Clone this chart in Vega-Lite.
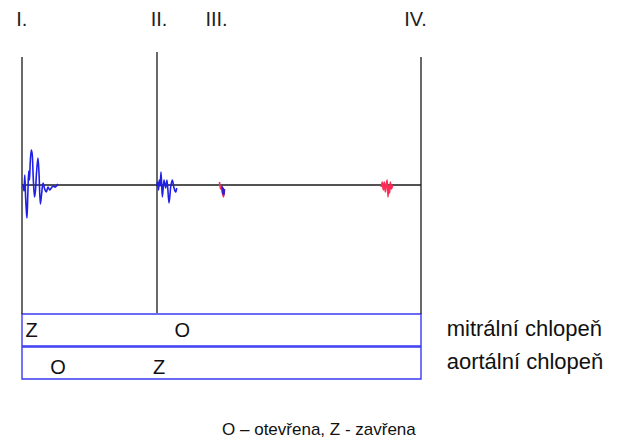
{
  "$schema": "https://vega.github.io/schema/vega-lite/v6.json",
  "width": 624,
  "height": 441,
  "autosize": {"type": "fit", "contains": "padding"},
  "padding": 0,
  "background": "white",
  "config": {"view": {"stroke": null}},
  "datasets": {
    "rules": [
      {"name": "I", "t": 0, "t2": 0, "a": 128, "a2": -129},
      {"name": "II", "t": 135, "t2": 135, "a": 133, "a2": -128},
      {"name": "IV", "t": 399, "t2": 399, "a": 128, "a2": -129},
      {"name": "base", "t": 0, "t2": 399, "a": 0, "a2": 0}
    ],
    "boxes": [
      {"name": "mitral", "t": 0, "t2": 399, "a": -129, "a2": -161},
      {"name": "aortal", "t": 0, "t2": 399, "a": -162, "a2": -194}
    ],
    "waves": [
      {"s": "I", "i": 0, "t": 1, "a": 0},
      {"s": "I", "i": 1, "t": 2, "a": -6},
      {"s": "I", "i": 2, "t": 2.8, "a": 10},
      {"s": "I", "i": 3, "t": 3.6, "a": -12},
      {"s": "I", "i": 4, "t": 4.3, "a": -25},
      {"s": "I", "i": 5, "t": 5, "a": -33},
      {"s": "I", "i": 6, "t": 5.8, "a": -10},
      {"s": "I", "i": 7, "t": 6.7, "a": 14},
      {"s": "I", "i": 8, "t": 7.5, "a": 5},
      {"s": "I", "i": 9, "t": 8.2, "a": 22},
      {"s": "I", "i": 10, "t": 9.3, "a": 35},
      {"s": "I", "i": 11, "t": 10.3, "a": 30},
      {"s": "I", "i": 12, "t": 11.2, "a": 8},
      {"s": "I", "i": 13, "t": 12.5, "a": -12},
      {"s": "I", "i": 14, "t": 13.5, "a": -5},
      {"s": "I", "i": 15, "t": 14.5, "a": 12},
      {"s": "I", "i": 16, "t": 16, "a": 27},
      {"s": "I", "i": 17, "t": 17, "a": 12},
      {"s": "I", "i": 18, "t": 18.3, "a": -19},
      {"s": "I", "i": 19, "t": 19.5, "a": -10},
      {"s": "I", "i": 20, "t": 21, "a": 2},
      {"s": "I", "i": 21, "t": 22.7, "a": -4},
      {"s": "I", "i": 22, "t": 24.3, "a": -7},
      {"s": "I", "i": 23, "t": 26, "a": -2},
      {"s": "I", "i": 24, "t": 27.7, "a": -5},
      {"s": "I", "i": 25, "t": 29.3, "a": -3},
      {"s": "I", "i": 26, "t": 31, "a": -1},
      {"s": "I", "i": 27, "t": 33, "a": -2},
      {"s": "I", "i": 28, "t": 36, "a": 1},
      {"s": "II", "i": 0, "t": 134.7, "a": 0},
      {"s": "II", "i": 1, "t": 135.7, "a": 3},
      {"s": "II", "i": 2, "t": 136.5, "a": -5},
      {"s": "II", "i": 3, "t": 137.3, "a": 5},
      {"s": "II", "i": 4, "t": 138.2, "a": -1},
      {"s": "II", "i": 5, "t": 139, "a": 13},
      {"s": "II", "i": 6, "t": 140.3, "a": -12},
      {"s": "II", "i": 7, "t": 142, "a": 5},
      {"s": "II", "i": 8, "t": 143.7, "a": -3},
      {"s": "II", "i": 9, "t": 145, "a": 5},
      {"s": "II", "i": 10, "t": 147, "a": -18},
      {"s": "II", "i": 11, "t": 148.7, "a": -2},
      {"s": "II", "i": 12, "t": 150.3, "a": 5},
      {"s": "II", "i": 13, "t": 152, "a": -3},
      {"s": "II", "i": 14, "t": 153.7, "a": -7},
      {"s": "II", "i": 15, "t": 154.7, "a": -3},
      {"s": "IIIr", "i": 0, "t": 197.5, "a": 3},
      {"s": "IIIr", "i": 1, "t": 198.5, "a": -4},
      {"s": "IIIr", "i": 2, "t": 199.5, "a": -2},
      {"s": "IIIr", "i": 3, "t": 200.5, "a": -8},
      {"s": "IIIr", "i": 4, "t": 201.5, "a": -12},
      {"s": "IIIr", "i": 5, "t": 202.3, "a": -6},
      {"s": "IIIb", "i": 0, "t": 200, "a": -1},
      {"s": "IIIb", "i": 1, "t": 200.7, "a": -9},
      {"s": "IIIb", "i": 2, "t": 201.3, "a": -3},
      {"s": "IIIb", "i": 3, "t": 202, "a": -10},
      {"s": "IIIb", "i": 4, "t": 202.5, "a": -4},
      {"s": "IV", "i": 0, "t": 359.3, "a": -2},
      {"s": "IV", "i": 1, "t": 360.3, "a": 3},
      {"s": "IV", "i": 2, "t": 361.3, "a": -5},
      {"s": "IV", "i": 3, "t": 362.3, "a": 3},
      {"s": "IV", "i": 4, "t": 363.3, "a": -7},
      {"s": "IV", "i": 5, "t": 364.3, "a": 1},
      {"s": "IV", "i": 6, "t": 365.2, "a": 5},
      {"s": "IV", "i": 7, "t": 366, "a": -12},
      {"s": "IV", "i": 8, "t": 366.8, "a": -1},
      {"s": "IV", "i": 9, "t": 367.6, "a": -8},
      {"s": "IV", "i": 10, "t": 368.3, "a": 3},
      {"s": "IV", "i": 11, "t": 369.3, "a": -4},
      {"s": "IV", "i": 12, "t": 370.7, "a": 0}
    ],
    "heads": [
      {"label": "I.", "t": -0.3, "a": 165},
      {"label": "II.", "t": 137, "a": 165},
      {"label": "III.", "t": 194.5, "a": 165},
      {"label": "IV.", "t": 393.5, "a": 165}
    ],
    "states": [
      {"label": "Z", "t": 9.7, "a": -145.5},
      {"label": "O", "t": 160.4, "a": -146},
      {"label": "O", "t": 36, "a": -182.5},
      {"label": "Z", "t": 137, "a": -182.5}
    ],
    "valves": [
      {"label": "mitrální chlopeň", "t": 424.7, "a": -144},
      {"label": "aortální chlopeň", "t": 424.7, "a": -177}
    ],
    "note": [
      {"label": "O – otevřena, Z - zavřena", "t": 296.9, "a": -245}
    ]
  },
  "layer": [
    {
      "data": {"name": "boxes"},
      "mark": {"type": "rect", "fillOpacity": 0, "stroke": "#3a3af2", "strokeWidth": 1.4},
      "encoding": {
        "x": {"field": "t", "type": "quantitative", "scale": {"domain": [-22, 602], "nice": false, "zero": false}, "axis": null},
        "x2": {"field": "t2"},
        "y": {"field": "a", "type": "quantitative", "scale": {"domain": [-256, 185], "nice": false, "zero": false}, "axis": null},
        "y2": {"field": "a2"}
      }
    },
    {
      "data": {"name": "rules"},
      "mark": {"type": "rule", "color": "#1a1a1a", "strokeWidth": 1.3},
      "encoding": {
        "x": {"field": "t", "type": "quantitative", "scale": {"domain": [-22, 602], "nice": false, "zero": false}, "axis": null},
        "x2": {"field": "t2"},
        "y": {"field": "a", "type": "quantitative", "scale": {"domain": [-256, 185], "nice": false, "zero": false}, "axis": null},
        "y2": {"field": "a2"}
      }
    },
    {
      "data": {"name": "waves"},
      "mark": {"type": "line", "strokeWidth": 1.6, "interpolate": "monotone"},
      "encoding": {
        "x": {"field": "t", "type": "quantitative", "scale": {"domain": [-22, 602], "nice": false, "zero": false}, "axis": null},
        "y": {"field": "a", "type": "quantitative", "scale": {"domain": [-256, 185], "nice": false, "zero": false}, "axis": null},
        "color": {"field": "s", "type": "nominal", "scale": {"domain": ["I", "II", "IIIr", "IIIb", "IV"], "range": ["#1f1fe6", "#1f1fe6", "#ff2b55", "#3a1fc8", "#ff2b55"]}, "legend": null},
        "order": {"field": "i", "type": "quantitative"}
      }
    },
    {
      "data": {"name": "heads"},
      "mark": {"type": "text", "font": "Liberation Sans", "fontSize": 20, "align": "center", "baseline": "middle", "color": "#222222"},
      "encoding": {
        "x": {"field": "t", "type": "quantitative", "scale": {"domain": [-22, 602], "nice": false, "zero": false}, "axis": null},
        "y": {"field": "a", "type": "quantitative", "scale": {"domain": [-256, 185], "nice": false, "zero": false}, "axis": null},
        "text": {"field": "label"}
      }
    },
    {
      "data": {"name": "states"},
      "mark": {"type": "text", "font": "Liberation Sans", "fontSize": 20, "align": "center", "baseline": "middle", "color": "#111111"},
      "encoding": {
        "x": {"field": "t", "type": "quantitative", "scale": {"domain": [-22, 602], "nice": false, "zero": false}, "axis": null},
        "y": {"field": "a", "type": "quantitative", "scale": {"domain": [-256, 185], "nice": false, "zero": false}, "axis": null},
        "text": {"field": "label"}
      }
    },
    {
      "data": {"name": "valves"},
      "mark": {"type": "text", "font": "Liberation Sans", "fontSize": 22, "align": "left", "baseline": "middle", "color": "#111111"},
      "encoding": {
        "x": {"field": "t", "type": "quantitative", "scale": {"domain": [-22, 602], "nice": false, "zero": false}, "axis": null},
        "y": {"field": "a", "type": "quantitative", "scale": {"domain": [-256, 185], "nice": false, "zero": false}, "axis": null},
        "text": {"field": "label"}
      }
    },
    {
      "data": {"name": "note"},
      "mark": {"type": "text", "font": "Liberation Sans", "fontSize": 17, "align": "center", "baseline": "middle", "color": "#111111"},
      "encoding": {
        "x": {"field": "t", "type": "quantitative", "scale": {"domain": [-22, 602], "nice": false, "zero": false}, "axis": null},
        "y": {"field": "a", "type": "quantitative", "scale": {"domain": [-256, 185], "nice": false, "zero": false}, "axis": null},
        "text": {"field": "label"}
      }
    }
  ]
}
